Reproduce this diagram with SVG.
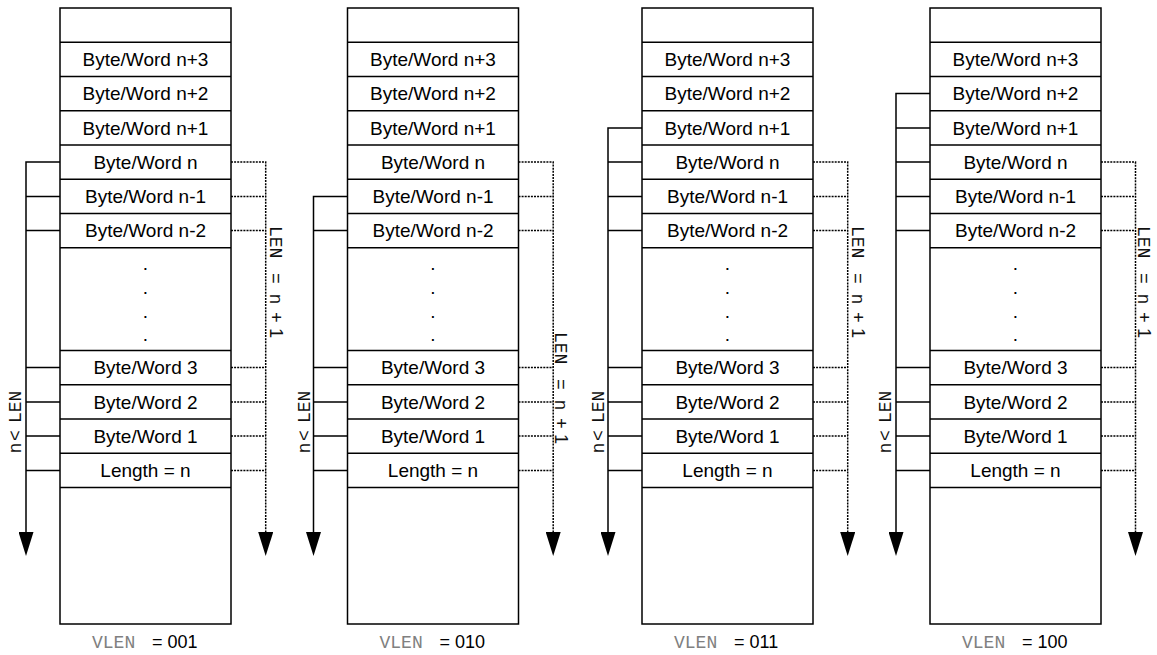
<svg xmlns="http://www.w3.org/2000/svg" width="1157" height="655" viewBox="0 0 1157 655">
<style>
.box{fill:#fff;stroke:#000;stroke-width:1.5}
.div{fill:none;stroke:#000;stroke-width:1.5}
.cell{font-family:"Liberation Sans",Arial,sans-serif;font-size:19px;fill:#000;text-anchor:middle}
.solid{fill:none;stroke:#000;stroke-width:1.5}
.dot{fill:none;stroke:#000;stroke-width:1.5;stroke-dasharray:2 1.1}
.mono{font-family:"Liberation Mono","Courier New",monospace;font-size:18px}
.sans{font-family:"Liberation Sans",Arial,sans-serif;font-size:18px}
.lbl{fill:#111}
.vlen{font-family:"Liberation Mono","Courier New",monospace;font-size:18px;fill:#808080}
.vval{font-family:"Liberation Sans",Arial,sans-serif;font-size:18px;fill:#000}
</style>
<defs>
<marker id="arr" markerUnits="userSpaceOnUse" viewBox="0 -7.5 24 15" refX="0" refY="0" markerWidth="24" markerHeight="15" orient="auto">
<path d="M0,-7.5 L24,0 L0,7.5 Z" fill="#000"/>
</marker>
<g id="stack">
<rect class="box" x="0" y="8" width="171" height="616"/>
<path class="div" d="M0,42.25H171M0,76.5H171M0,110.75H171M0,145H171M0,179.25H171M0,213.5H171M0,247.75H171M0,350.5H171M0,384.75H171M0,419H171M0,453.25H171M0,487.5H171"/>
<text class="cell" x="85.5" y="66.2">Byte/Word n+3</text>
<text class="cell" x="85.5" y="100.4">Byte/Word n+2</text>
<text class="cell" x="85.5" y="134.7">Byte/Word n+1</text>
<text class="cell" x="85.5" y="168.9">Byte/Word n</text>
<text class="cell" x="85.5" y="203.2">Byte/Word n-1</text>
<text class="cell" x="85.5" y="237.4">Byte/Word n-2</text>
<text class="cell" x="85.5" y="269.5">.</text>
<text class="cell" x="85.5" y="293.5">.</text>
<text class="cell" x="85.5" y="317.5">.</text>
<text class="cell" x="85.5" y="340.5">.</text>
<text class="cell" x="85.5" y="374.4">Byte/Word 3</text>
<text class="cell" x="85.5" y="408.7">Byte/Word 2</text>
<text class="cell" x="85.5" y="442.9">Byte/Word 1</text>
<text class="cell" x="85.5" y="477.2">Length = n</text>
</g>
</defs>

<g id="col1">
<use href="#stack" x="60" y="0"/>
<text x="92" y="648"><tspan class="vlen">VLEN</tspan><tspan class="vval" x="152">= 001</tspan></text>
</g>
<g id="col2">
<use href="#stack" x="347.5" y="0"/>
<text x="379.5" y="648"><tspan class="vlen">VLEN</tspan><tspan class="vval" x="439.5">= 010</tspan></text>
</g>
<g id="col3">
<use href="#stack" x="642" y="0"/>
<text x="674" y="648"><tspan class="vlen">VLEN</tspan><tspan class="vval" x="734">= 011</tspan></text>
</g>
<g id="col4">
<use href="#stack" x="930" y="0"/>
<text x="962" y="648"><tspan class="vlen">VLEN</tspan><tspan class="vval" x="1022">= 100</tspan></text>
</g>

<g id="connectors">
<!-- column 1 -->
<path class="solid" d="M60,162.1H26V532" marker-end="url(#arr)"/>
<path class="solid" d="M26,196.4H60M26,230.6H60M26,367.6H60M26,401.9H60M26,436.1H60M26,470.4H60"/>
<path class="dot" d="M231,162.1H265.7V532" marker-end="url(#arr)"/>
<path class="dot" d="M231,196.4H265.7M231,230.6H265.7M231,367.6H265.7M231,401.9H265.7M231,436.1H265.7M231,470.4H265.7"/>
<!-- column 2 -->
<path class="solid" d="M347.5,196.4H313.5V532" marker-end="url(#arr)"/>
<path class="solid" d="M313.5,230.6H347.5M313.5,367.6H347.5M313.5,401.9H347.5M313.5,436.1H347.5M313.5,470.4H347.5"/>
<path class="dot" d="M518.5,162.1H553.2V532" marker-end="url(#arr)"/>
<path class="dot" d="M518.5,196.4H553.2M518.5,230.6H553.2M518.5,367.6H553.2M518.5,401.9H553.2M518.5,436.1H553.2M518.5,470.4H553.2"/>
<!-- column 3 -->
<path class="solid" d="M642,127.9H608V532" marker-end="url(#arr)"/>
<path class="solid" d="M608,162.1H642M608,196.4H642M608,230.6H642M608,367.6H642M608,401.9H642M608,436.1H642M608,470.4H642"/>
<path class="dot" d="M813,162.1H847.7V532" marker-end="url(#arr)"/>
<path class="dot" d="M813,196.4H847.7M813,230.6H847.7M813,367.6H847.7M813,401.9H847.7M813,436.1H847.7M813,470.4H847.7"/>
<!-- column 4 -->
<path class="solid" d="M930,93.6H896V532" marker-end="url(#arr)"/>
<path class="solid" d="M896,127.9H930M896,162.1H930M896,196.4H930M896,230.6H930M896,367.6H930M896,401.9H930M896,436.1H930M896,470.4H930"/>
<path class="dot" d="M1101,162.1H1135.5V532" marker-end="url(#arr)"/>
<path class="dot" d="M1101,196.4H1135.5M1101,230.6H1135.5M1101,367.6H1135.5M1101,401.9H1135.5M1101,436.1H1135.5M1101,470.4H1135.5"/>
</g>

<g id="labels" class="lbl">
<text transform="translate(269.5,0) rotate(90)"><tspan class="mono" x="226" y="0">LEN</tspan><tspan class="sans" x="273" y="0">=</tspan><tspan class="sans" x="294" y="0">n</tspan><tspan class="sans" x="312" y="0">+</tspan><tspan class="sans" x="328" y="0">1</tspan></text>
<text transform="translate(555,0) rotate(90)"><tspan class="mono" x="332" y="0">LEN</tspan><tspan class="sans" x="379" y="0">=</tspan><tspan class="sans" x="400" y="0">n</tspan><tspan class="sans" x="418" y="0">+</tspan><tspan class="sans" x="434" y="0">1</tspan></text>
<text transform="translate(851.5,0) rotate(90)"><tspan class="mono" x="226" y="0">LEN</tspan><tspan class="sans" x="273" y="0">=</tspan><tspan class="sans" x="294" y="0">n</tspan><tspan class="sans" x="312" y="0">+</tspan><tspan class="sans" x="328" y="0">1</tspan></text>
<text transform="translate(1138,0) rotate(90)"><tspan class="mono" x="226" y="0">LEN</tspan><tspan class="sans" x="273" y="0">=</tspan><tspan class="sans" x="294" y="0">n</tspan><tspan class="sans" x="312" y="0">+</tspan><tspan class="sans" x="328" y="0">1</tspan></text>
<text transform="translate(20.5,453) rotate(-90)"><tspan class="sans" x="0" y="0">n</tspan><tspan class="sans" x="12" y="0">&lt;</tspan><tspan class="mono" x="30" y="0">LEN</tspan></text>
<text transform="translate(310,453) rotate(-90)"><tspan class="sans" x="0" y="0">n</tspan><tspan class="sans" x="12" y="0">&lt;</tspan><tspan class="mono" x="30" y="0">LEN</tspan></text>
<text transform="translate(603.5,453) rotate(-90)"><tspan class="sans" x="0" y="0">n</tspan><tspan class="sans" x="12" y="0">&lt;</tspan><tspan class="mono" x="30" y="0">LEN</tspan></text>
<text transform="translate(890.5,453) rotate(-90)"><tspan class="sans" x="0" y="0">n</tspan><tspan class="sans" x="12" y="0">&lt;</tspan><tspan class="mono" x="30" y="0">LEN</tspan></text>
</g>
</svg>
